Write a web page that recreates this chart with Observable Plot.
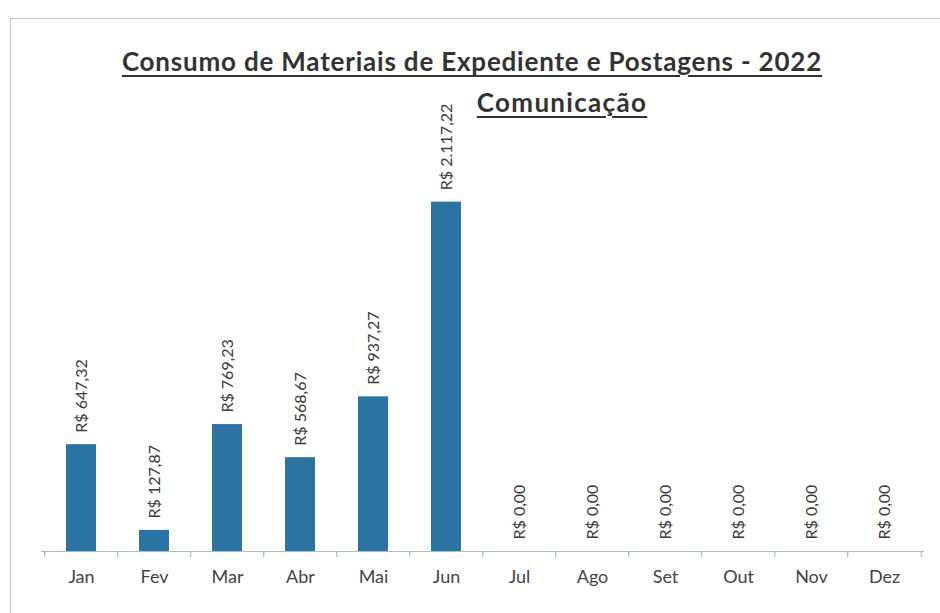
<!DOCTYPE html>
<html>
<head>
<meta charset="utf-8">
<script src="https://cdn.jsdelivr.net/npm/d3@7"></script>
<script src="https://cdn.jsdelivr.net/npm/@observablehq/plot@0.6"></script>
<style>
  html, body { margin: 0; padding: 0; background: #fff; }
  #wrap { position: relative; width: 940px; height: 613px; overflow: hidden; font-family: Lato, "Open Sans", sans-serif; }
  #frame { position: absolute; left: 10px; top: 18px; width: 960px; height: 620px; border-left: 1px solid #b9c4c0; border-top: 1px solid #b9c4c0; }
  .title { position: absolute; font-weight: bold; color: #333; text-decoration: underline; text-decoration-thickness: 2px; text-underline-offset: 4px; white-space: nowrap; line-height: 24px; transform: translateX(-50%); letter-spacing: 0.8px; }
  #t1 { left: 472px; top: 49px; font-size: 26px; }
  #t2 { left: 562px; top: 90px; font-size: 26px; letter-spacing: 1.3px; }
  #chart { position: absolute; left: 0; top: 0; }
</style>
</head>
<body>
<div id="wrap">
  <div id="frame"></div>
  <div id="chart"></div>
  <div class="title" id="t1">Consumo de Materiais de Expediente e Postagens - 2022</div>
  <div class="title" id="t2">Comunicação</div>
</div>
<script>
const months = ["Jan", "Fev", "Mar", "Abr", "Mai", "Jun", "Jul", "Ago", "Set", "Out", "Nov", "Dez"];
const values = [647.32, 127.87, 769.23, 568.67, 937.27, 2117.22, 0, 0, 0, 0, 0, 0];
const labels = ["R$ 647,32", "R$ 127,87", "R$ 769,23", "R$ 568,67", "R$ 937,27", "R$ 2.117,22",
                "R$ 0,00", "R$ 0,00", "R$ 0,00", "R$ 0,00", "R$ 0,00", "R$ 0,00"];

const data = months.map((m, i) => ({month: m, value: values[i], label: labels[i]}));

const W = 940, H = 613, ML = 41, MR = 16;
const step = (W - ML - MR) / months.length;

const chart = Plot.plot({
  width: W,
  height: H,
  marginLeft: ML,
  marginRight: MR,
  marginTop: 122,
  marginBottom: 62,
  style: {fontFamily: "Lato, 'Open Sans', sans-serif", background: "transparent"},
  x: {domain: months, paddingInner: 0.59, paddingOuter: 0.295, label: null},
  y: {domain: [0, 2600], axis: null},
  marks: [
    Plot.barY(data, {x: "month", y: "value", fill: "#2b73a3"}),
    Plot.ruleY([0], {stroke: "#a3c2b6", strokeWidth: 1.2}),
    Plot.ruleX(data, {x: "month", y1: 0, dx: -step / 2, insetBottom: -6, stroke: "#a3c2b6", strokeWidth: 1.2}),
    Plot.ruleX(data.slice(-1), {x: "month", y1: 0, dx: step / 2, insetBottom: -6, stroke: "#a3c2b6", strokeWidth: 1.2}),
    Plot.text(data, {x: "month", y: "value", text: "label", rotate: -90, textAnchor: "start", lineAnchor: "middle", dy: -12, fontSize: 16, fill: "#3a3a3a"}),
    Plot.axisX({tickSize: 0, tickPadding: 19, fontSize: 18, color: "#444", label: null})
  ]
});
document.getElementById("chart").appendChild(chart);
</script>
</body>
</html>
